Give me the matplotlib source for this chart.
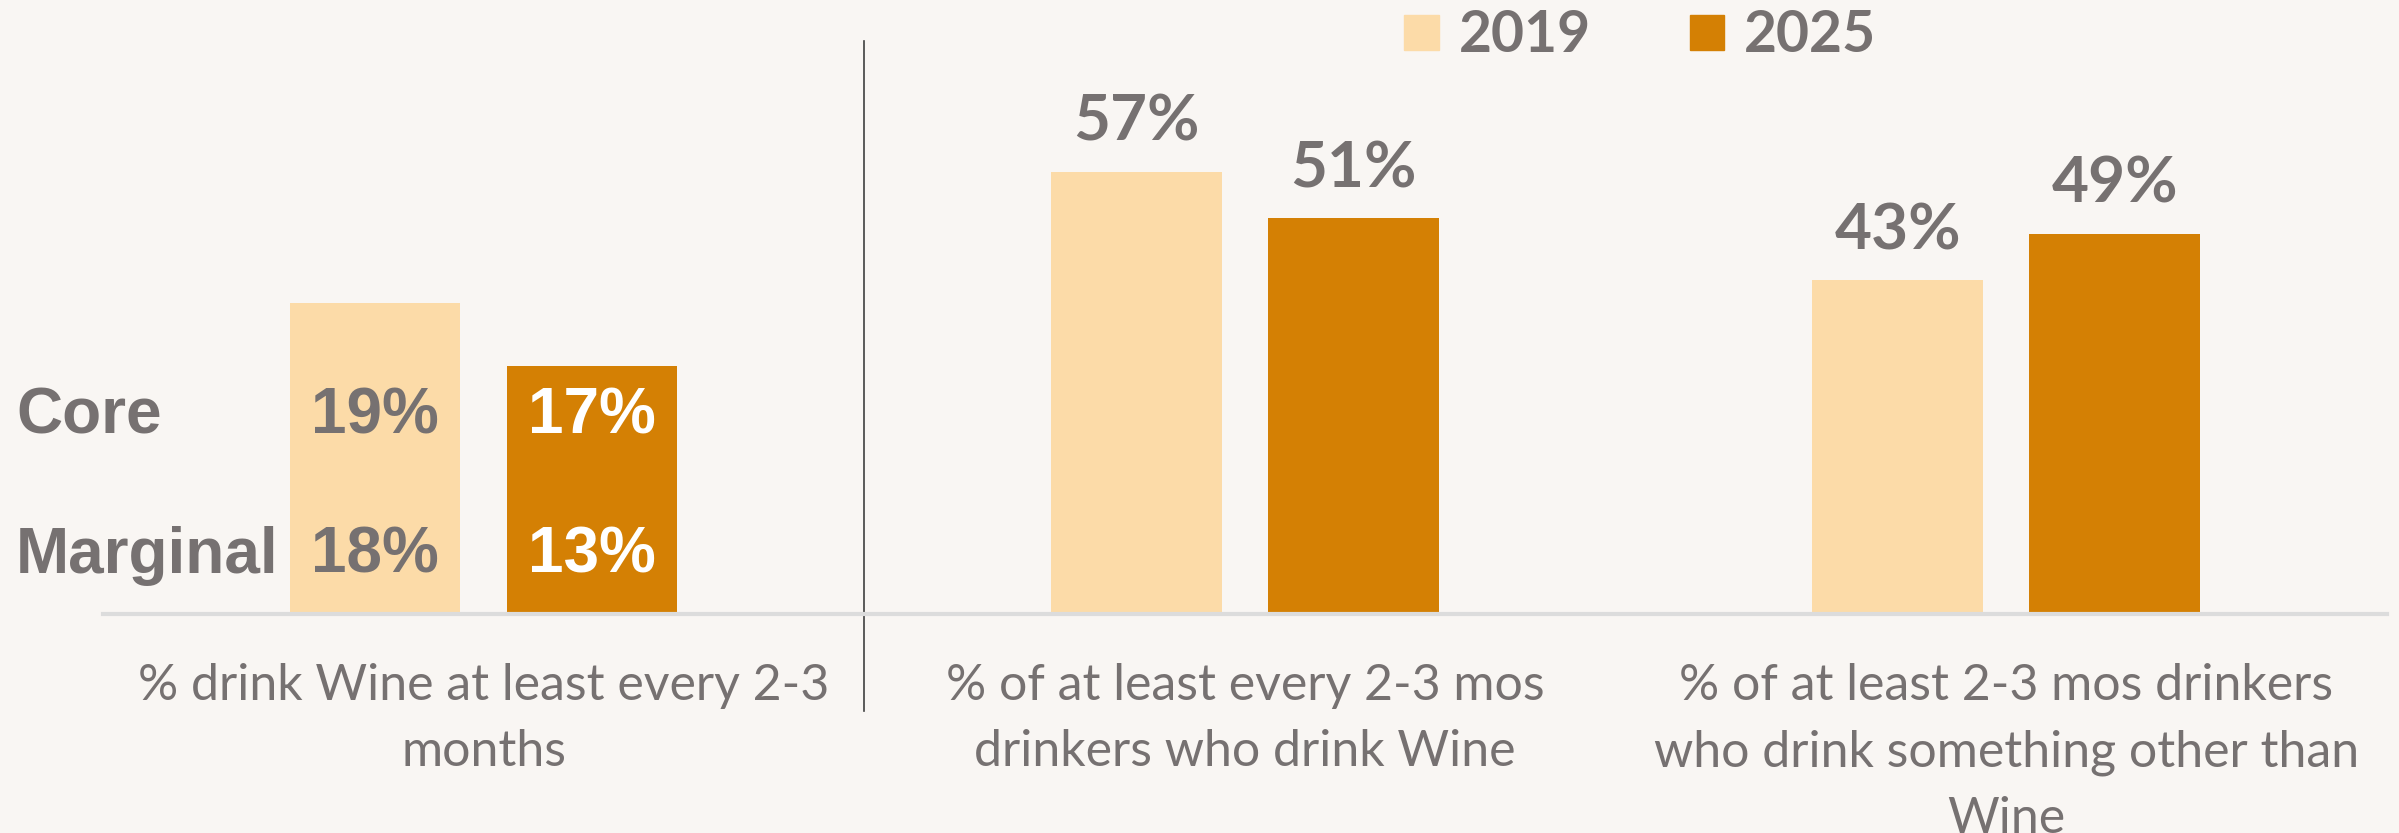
import matplotlib.pyplot as plt
import matplotlib.transforms as mtransforms
from matplotlib.patches import Patch
import numpy as np

# Data
categories = [
    '% drink Wine at least every 2-3\nmonths',
    '% of at least every 2-3 mos\ndrinkers who drink Wine',
    '% of at least 2-3 mos drinkers\nwho drink something other than\nWine',
]
years = ['2019', '2025']
bars_2019 = [40, 57, 43]   # first bar height
bars_2025 = [32, 51, 49]
labels_2019 = [None, '57%', '43%']
labels_2025 = [None, '51%', '49%']
segments = ['Core', 'Marginal']
core_vals = ['19%', '17%']
marginal_vals = ['18%', '13%']

bg = '#f9f6f3'
light = '#fcdba8'
dark = '#d48004'
gray = '#767171'

fig = plt.figure(figsize=(23.99, 8.33), dpi=100, facecolor=bg)
ax = fig.add_axes([0.0429, 0.263, 0.952, 0.737])
ax.set_facecolor(bg)

x = np.arange(len(categories))
w = 0.224
off = 0.1425
b1 = ax.bar(x - off, bars_2019, w, color=light, label=years[0])
b2 = ax.bar(x + off, bars_2025, w, color=dark, label=years[1])

# value labels above bars
for bars, labs in [(b1, labels_2019), (b2, labels_2025)]:
    for rect, lab in zip(bars, labs):
        if lab:
            ax.annotate(lab, (rect.get_x() + rect.get_width() / 2, rect.get_height()),
                        xytext=(0, 15), textcoords='offset points', ha='center', va='bottom',
                        fontsize=46, fontweight='bold', color=gray, family='Lato')

# core / marginal labels inside first group
seg_y = [25.5, 7.5]
trans = mtransforms.blended_transform_factory(fig.transFigure, ax.transData)
for name, yy in zip(segments, seg_y):
    ax.text(16 / 2399, yy, name, transform=trans, ha='left', va='center',
            fontsize=46, fontweight='bold', color=gray, family='Liberation Sans')
for vals, yy in zip([core_vals, marginal_vals], seg_y):
    ax.text(x[0] - off, yy, vals[0], ha='center', va='center', fontsize=46,
            fontweight='bold', color=gray, family='Liberation Sans')
    ax.text(x[0] + off, yy, vals[1], ha='center', va='center', fontsize=46,
            fontweight='bold', color='white', family='Liberation Sans')

ax.set_xlim(-0.5, 2.5)
ax.set_ylim(0, 79.1)
ax.set_yticks([])
ax.set_xticks(x)
ax.set_xticklabels(categories, fontsize=36, color=gray, family='Lato', linespacing=1.56)
ax.tick_params(axis='x', length=0, pad=35)
for s in ['top', 'right', 'left']:
    ax.spines[s].set_visible(False)
ax.spines['bottom'].set_color('#dcdcdc')
ax.spines['bottom'].set_linewidth(3)

# separator line
ax.plot([0.5, 0.5], [-0.158, 0.933], transform=ax.get_xaxis_transform(),
        color='#404040', lw=1.2, clip_on=False)

handles = [Patch(color=light), Patch(color=dark)]
leg = fig.legend(handles, years, loc='upper left', bbox_to_anchor=(1376 / 2399, 1 + 19 / 833),
                 ncol=2, frameon=False, borderpad=0, handlelength=0.6, handleheight=0.56,
                 handletextpad=0.35, columnspacing=1.74,
                 prop={'family': 'Lato', 'weight': 'bold', 'size': 41})
for t in leg.get_texts():
    t.set_color(gray)

fig.savefig('out.png', dpi=100, facecolor=bg)
